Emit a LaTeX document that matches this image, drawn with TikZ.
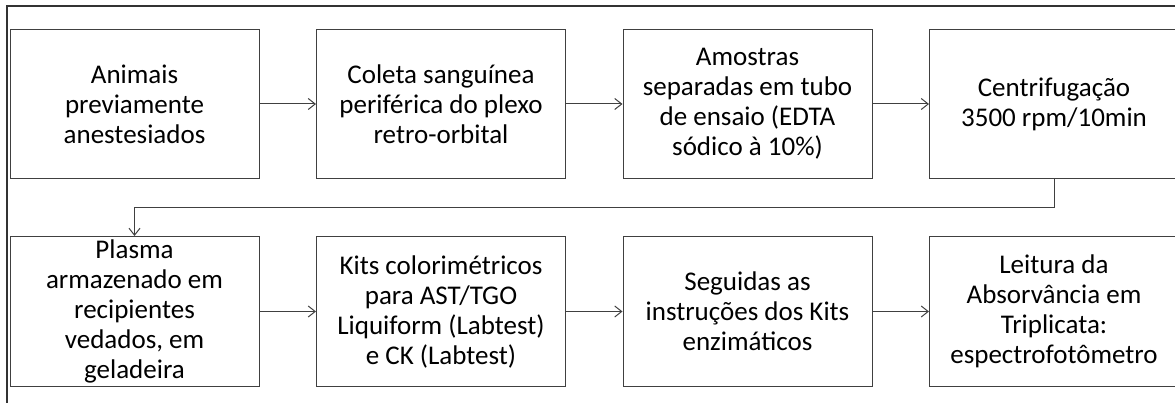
\documentclass[tikz,border=0pt]{standalone}
\usepackage{fontspec}
\setmainfont{Carlito}
\usepackage{tikz}
\usetikzlibrary{positioning,arrows.meta}
\definecolor{linha}{rgb}{0.25,0.25,0.25}
\tikzset{etapa/.style = {draw=linha, line width=1pt, minimum width=249pt, minimum height=149pt,
    inner sep=0pt, align=center, font=\fontsize{27}{30}\selectfont},
  seta/.style = {draw=linha, line width=1pt, -{Straight Barb[length=7pt,width=11pt]}}}

\begin{document}
\begin{tikzpicture}[x=1pt, y=1pt, node distance=56.5pt]
      \useasboundingbox (0,0) rectangle (1175,-403);
      \draw [line width=1.8pt, black!80] (1175,-6) -- (7,-6) -- (7,-403);
      \node [etapa] (anim) at (134.5,-104) {Animais\\previamente\\anestesiados};
      \node [etapa, right=of anim] (coleta) {Coleta sanguínea\\periférica do plexo\\retro-orbital};
      \node [etapa, right=of coleta] (amostras) {Amostras\\separadas em tubo\\de ensaio (EDTA\\sódico à 10\%)};
      \node [etapa, right=of amostras] (centri) {Centrifugação\\3500 rpm/10min};
      \node [etapa, below=57pt of anim, minimum height=150pt] (plasma) {Plasma\\armazenado em\\recipientes\\vedados, em\\geladeira};
      \node [etapa, right=of plasma, minimum height=150pt] (kits) {Kits colorimétricos\\para AST/TGO\\Liquiform (Labtest)\\e CK (Labtest)};
      \node [etapa, right=of kits, minimum height=150pt] (seguidas) {Seguidas as\\instruções dos Kits\\enzimáticos};
      \node [etapa, right=of seguidas, minimum height=150pt] (leitura) {Leitura da\\Absorvância em\\Triplicata:\\espectrofotômetro};
      \draw [seta] (anim) -- (coleta);
      \draw [seta] (coleta) -- (amostras);
      \draw [seta] (amostras) -- (centri);
      \draw [seta] (centri.south) -- ++(0,-29) -| (plasma.north);
      \draw [seta] (plasma) -- (kits);
      \draw [seta] (kits) -- (seguidas);
      \draw [seta] (seguidas) -- (leitura);
    \end{tikzpicture}
\end{document}
